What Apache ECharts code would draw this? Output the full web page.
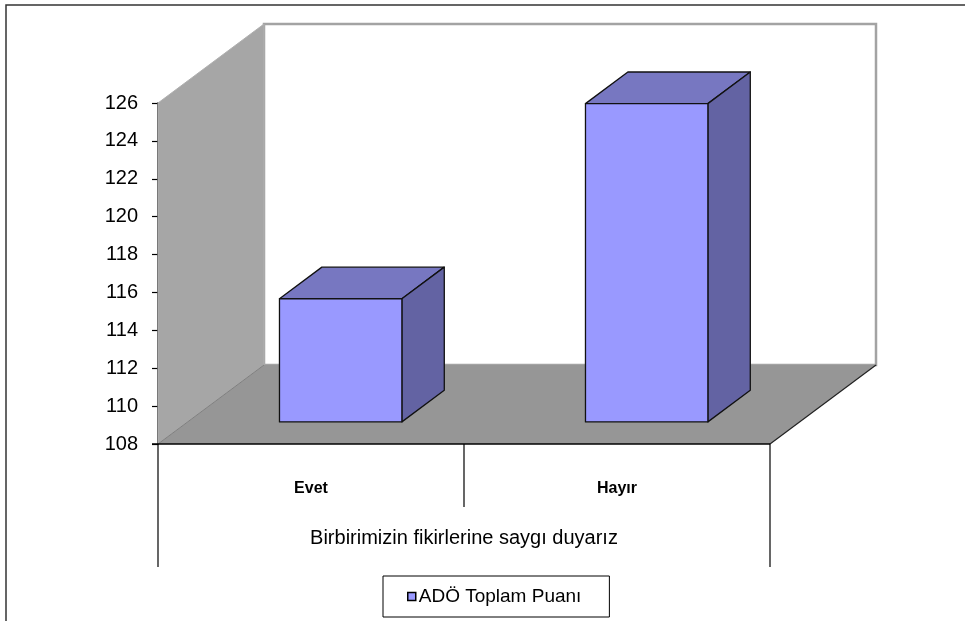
<!DOCTYPE html>
<html>
<head>
<meta charset="utf-8">
<script src="https://cdn.jsdelivr.net/npm/echarts@6/dist/echarts.min.js"></script>
<style>
html,body{margin:0;padding:0;background:#fff;}
#chart{width:965px;height:621px;}
</style>
</head>
<body>
<div id="chart"></div>
<script>
var categories = ['Evet', 'Hayır'];
var seriesName = 'ADÖ Toplam Puanı';
var values = [114.5, 124.8];
var axisTitle = 'Birbirimizin fikirlerine saygı duyarız';
var yMin = 108, yMax = 126, yStep = 2;

// oblique depth projection (pixels for full depth)
var DX = 106, DY = -79;
var BAR_D0 = 0.28, BAR_D1 = 0.68, BAR_W = 0.4;

var chart = echarts.init(document.getElementById('chart'), null, {renderer: 'canvas'});

function backgroundItem(params, api) {
  var cs = params.coordSys;
  var x0 = cs.x, x1 = cs.x + cs.width, yt = cs.y, yb = cs.y + cs.height;
  var children = [];
  // back wall
  children.push({type: 'rect', shape: {x: x0 + DX, y: yt + DY, width: cs.width, height: cs.height},
    style: {fill: '#ffffff', stroke: '#a3a3a3', lineWidth: 2.5}});
  // left side wall
  children.push({type: 'polygon', shape: {points: [[x0, yt], [x0 + DX, yt + DY], [x0 + DX, yb + DY], [x0, yb]]},
    style: {fill: '#a6a6a6', stroke: '#b0b0b0', lineWidth: 1}});
  // floor
  children.push({type: 'polygon', shape: {points: [[x0, yb], [x1, yb], [x1 + DX, yb + DY], [x0 + DX, yb + DY]]},
    style: {fill: '#969696', stroke: null}});
  children.push({type: 'line', shape: {x1: x1, y1: yb, x2: x1 + DX, y2: yb + DY}, style: {stroke: '#222', lineWidth: 1.2}});
  children.push({type: 'line', shape: {x1: x0, y1: yb, x2: x0 + DX, y2: yb + DY}, style: {stroke: '#808080', lineWidth: 1}});
  // category box lines below the floor
  var bw = api.size([1, 0])[0];
  children.push({type: 'line', shape: {x1: x0, y1: yb, x2: x0, y2: yb + 123}, style: {stroke: '#000', lineWidth: 1.2}});
  children.push({type: 'line', shape: {x1: x1, y1: yb, x2: x1, y2: yb + 123}, style: {stroke: '#000', lineWidth: 1.2}});
  for (var i = 1; i < categories.length; i++) {
    var xs = cs.x + bw * i;
    children.push({type: 'line', shape: {x1: xs, y1: yb, x2: xs, y2: yb + 63}, style: {stroke: '#000', lineWidth: 1.2}});
  }
  children.push({type: 'line', shape: {x1: x0 - 6, y1: yb, x2: x1, y2: yb}, style: {stroke: '#000', lineWidth: 1.5}});
  return {type: 'group', children: children};
}

function barItem(params, api) {
  var cat = api.value(0), val = api.value(1);
  var top = api.coord([cat, val]);
  var base = api.coord([cat, yMin]);
  var bw = api.size([1, 0])[0] * BAR_W;
  var ox0 = DX * BAR_D0, oy0 = DY * BAR_D0;
  var ox1 = DX * BAR_D1, oy1 = DY * BAR_D1;
  var xl = top[0] - bw / 2 + ox0, xr = top[0] + bw / 2 + ox0;
  var yt = top[1] + oy0, yb = base[1] + oy0;
  var ddx = ox1 - ox0, ddy = oy1 - oy0;
  var stroke = {stroke: '#111', lineWidth: 1.3, lineJoin: 'round'};
  return {type: 'group', children: [
    {type: 'polygon', shape: {points: [[xl, yt], [xr, yt], [xr + ddx, yt + ddy], [xl + ddx, yt + ddy]]},
      style: Object.assign({fill: '#7777c1'}, stroke)},
    {type: 'polygon', shape: {points: [[xr, yt], [xr + ddx, yt + ddy], [xr + ddx, yb + ddy], [xr, yb]]},
      style: Object.assign({fill: '#6363a3'}, stroke)},
    {type: 'rect', shape: {x: xl, y: yt, width: xr - xl, height: yb - yt},
      style: Object.assign({fill: '#9999ff'}, stroke)}
  ]};
}

var option = {
  animation: false,
  backgroundColor: '#ffffff',
  textStyle: {fontFamily: 'Liberation Sans, Arial, sans-serif'},
  graphic: [{type: 'rect', shape: {x: 6, y: 5, width: 1000, height: 700}, style: {fill: null, stroke: '#333', lineWidth: 1.5}, z: 100, silent: true}],
  grid: {left: 158, top: 103, right: 195, bottom: 177},
  xAxis: {
    type: 'category', data: categories,
    axisLine: {show: false}, axisTick: {show: false},
    axisLabel: {fontSize: 16, fontWeight: 'bold', color: '#000', margin: 37},
    name: axisTitle, nameLocation: 'middle', nameGap: 84,
    nameTextStyle: {fontSize: 20, color: '#000'}
  },
  yAxis: {
    type: 'value', min: yMin, max: yMax, interval: yStep,
    axisLine: {show: true, lineStyle: {color: '#000', width: 1.5}},
    axisTick: {show: true, length: 6, lineStyle: {color: '#000', width: 1.2}},
    axisLabel: {fontSize: 20, color: '#000', margin: 20},
    splitLine: {show: false}
  },
  legend: {
    show: true, data: [seriesName], left: 383, top: 576,
    padding: [11, 28, 11, 24], itemWidth: 8, itemHeight: 8, itemGap: 3,
    icon: 'rect', borderColor: '#000', borderWidth: 1,
    itemStyle: {color: '#9999ff', borderColor: '#000', borderWidth: 1.5},
    textStyle: {fontSize: 19, color: '#000', padding: [0, 0, 0, -2]}
  },
  series: [
    {type: 'custom', name: '_bg', renderItem: backgroundItem, data: [[0, yMin]], clip: false, silent: true, z: 1},
    {type: 'custom', name: seriesName, renderItem: barItem,
      data: values.map(function (v, i) { return [i, v]; }),
      itemStyle: {color: '#9999ff'}, clip: false, z: 3}
  ]
};
chart.setOption(option);
</script>
</body>
</html>
